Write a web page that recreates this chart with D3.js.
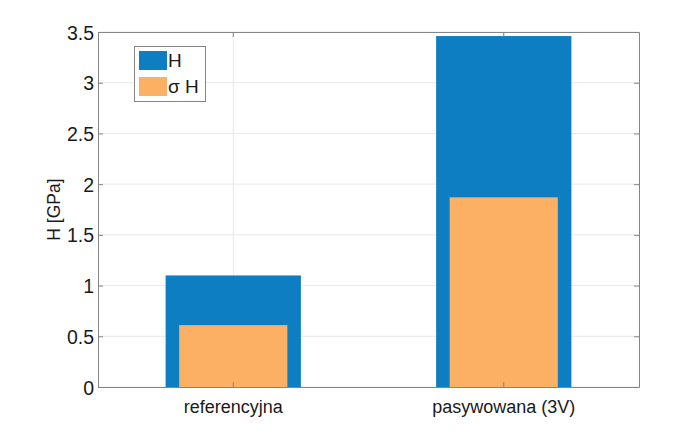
<!DOCTYPE html>
<html>
<head>
<meta charset="utf-8">
<script src="https://cdn.jsdelivr.net/npm/d3@7"></script>
<style>
  html, body { margin: 0; padding: 0; background: #fff; }
  svg { display: block; font-family: "Liberation Sans", Arial, Helvetica, sans-serif; }
</style>
</head>
<body>
<svg id="chart" width="674" height="435"></svg>
<script>
const categories = ["referencyjna", "pasywowana (3V)"];
const hValues = [1.10, 3.46];
const sigmaValues = [0.61, 1.87];
const yTicks = [0, 0.5, 1, 1.5, 2, 2.5, 3, 3.5];
const yTickLabels = ["0", "0.5", "1", "1.5", "2", "2.5", "3", "3.5"];
const legendLabels = ["H", "σ H"];
const yLabel = "H [GPa]";

const colors = ["#0c7ec1", "#fbb064"];
const svg = d3.select("#chart");
const m = { left: 98, right: 639, top: 32, bottom: 387 };

const x = d3.scaleBand().domain(categories).range([m.left, m.right]).padding(0);
const y = d3.scaleLinear().domain([0, 3.5]).range([m.bottom, m.top]);

// grid
const grid = svg.append("g");
grid.selectAll("line.h").data(yTicks).enter().append("line")
  .attr("x1", m.left).attr("x2", m.right)
  .attr("y1", d => y(d)).attr("y2", d => y(d))
  .attr("stroke", "#e8e8e8").attr("stroke-width", 1);
grid.selectAll("line.v").data(categories).enter().append("line")
  .attr("x1", d => x(d) + x.bandwidth() / 2).attr("x2", d => x(d) + x.bandwidth() / 2)
  .attr("y1", m.top).attr("y2", m.bottom)
  .attr("stroke", "#e8e8e8").attr("stroke-width", 1);

// bars
const bw = x.bandwidth();
svg.append("g").selectAll("rect").data(categories).enter().append("rect")
  .attr("x", d => x(d) + bw / 2 - bw * 0.25)
  .attr("width", bw * 0.5)
  .attr("y", (d, i) => y(hValues[i]))
  .attr("height", (d, i) => y(0) - y(hValues[i]))
  .attr("fill", colors[0]);
svg.append("g").selectAll("rect").data(categories).enter().append("rect")
  .attr("x", d => x(d) + bw / 2 - bw * 0.2)
  .attr("width", bw * 0.4)
  .attr("y", (d, i) => y(sigmaValues[i]))
  .attr("height", (d, i) => y(0) - y(sigmaValues[i]))
  .attr("fill", colors[1]);

// axes
const axisColor = "#858585";
const tl = 5;
const yAxisL = d3.axisLeft(y).tickValues(yTicks).tickFormat((d, i) => yTickLabels[i]).tickSizeInner(-tl).tickSizeOuter(0).tickPadding(4);
const gL = svg.append("g").attr("transform", `translate(${m.left},0)`).call(yAxisL);
const yAxisR = d3.axisRight(y).tickValues(yTicks).tickFormat("").tickSizeInner(-tl).tickSizeOuter(0);
const gR = svg.append("g").attr("transform", `translate(${m.right},0)`).call(yAxisR);
const xAxisB = d3.axisBottom(x).tickSizeInner(-tl).tickSizeOuter(0).tickPadding(13);
const gB = svg.append("g").attr("transform", `translate(0,${m.bottom})`).call(xAxisB);
const xAxisT = d3.axisTop(x).tickFormat("").tickSizeInner(-tl).tickSizeOuter(0);
const gT = svg.append("g").attr("transform", `translate(0,${m.top})`).call(xAxisT);

[gL, gR, gB, gT].forEach(g => {
  g.selectAll("path.domain").attr("stroke", axisColor);
  g.selectAll(".tick line").attr("stroke", axisColor);
  g.selectAll(".tick text").attr("fill", "#1a1a1a").style("font-size", "18px")
    .style("font-family", '"Liberation Sans", Arial, sans-serif');
});
gL.selectAll(".tick text").attr("dy", "0.36em").style("font-size", "19.5px");
gB.selectAll(".tick text").attr("dy", "0.71em");

// y label
svg.append("text")
  .attr("transform", `translate(54,${(m.top + m.bottom) / 2}) rotate(-90)`)
  .attr("text-anchor", "middle").attr("dy", "0.36em")
  .attr("fill", "#1a1a1a").style("font-size", "17.5px")
  .text(yLabel);

// legend
const lg = svg.append("g");
lg.append("rect").attr("x", 134.5).attr("y", 46.5).attr("width", 71).attr("height", 55)
  .attr("fill", "#fff").attr("stroke", axisColor);
legendLabels.forEach((lab, i) => {
  lg.append("rect").attr("x", 139).attr("y", 51 + i * 26).attr("width", 28).attr("height", 19)
    .attr("fill", colors[i]);
  lg.append("text").attr("x", 168).attr("y", 60.5 + i * 26).attr("dy", "0.36em")
    .attr("fill", "#1a1a1a").style("font-size", "19px").text(lab);
});
</script>
</body>
</html>
